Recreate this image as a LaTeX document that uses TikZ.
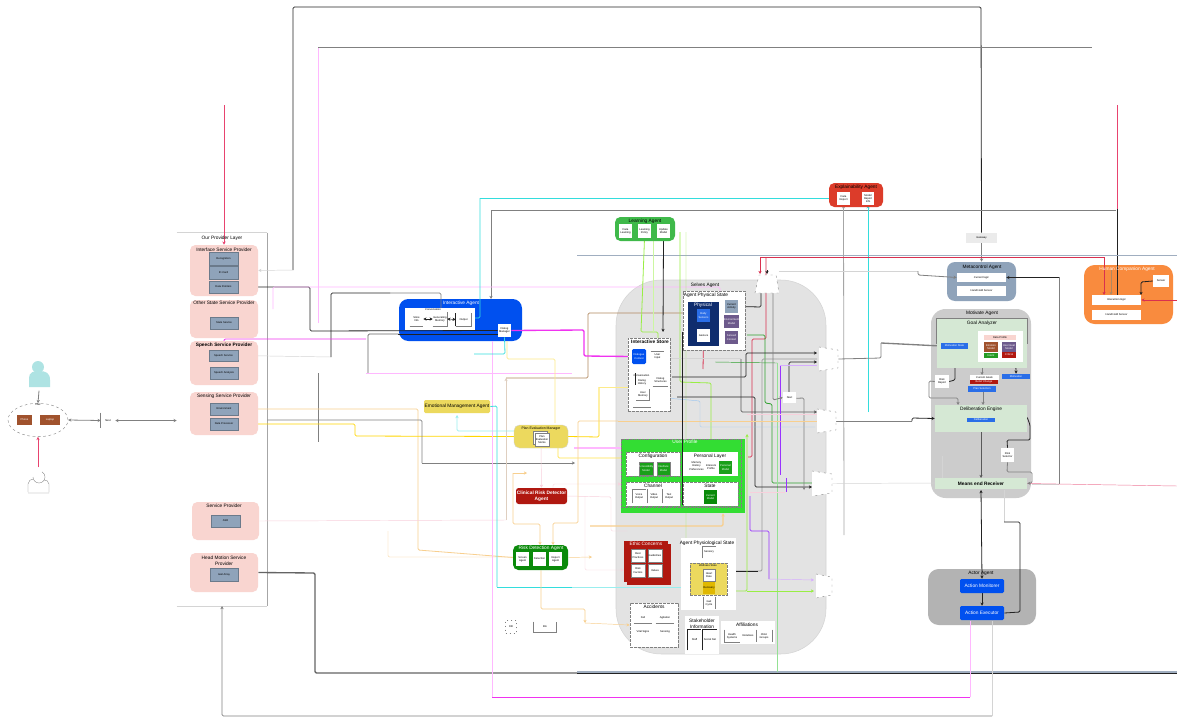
\documentclass[tikz,border=0pt]{standalone}
\usepackage{fontspec}
\setmainfont{Liberation Sans}
\usetikzlibrary{arrows.meta,shapes.geometric}
\pgfdeclarelayer{back}\pgfdeclarelayer{conn}\pgfdeclarelayer{over}
\pgfsetlayers{back,conn,main,over}
\newcommand{\fa}{\fontsize{2}{2.4}\selectfont}
\newcommand{\fb}{\fontsize{3.6}{4.2}\selectfont}
\newcommand{\fc}{\fontsize{4.6}{5.4}\selectfont}
\newcommand{\bx}[7][]{\node[inner sep=0pt,align=center,font=\fa,minimum width={(#5-#3)*0.75pt},minimum height={(#6-#4)*0.75pt},#1] (#2) at ({(#3+#5)/2},{(#4+#6)/2}) {#7};}
\newcommand{\ttl}[5][]{\node[inner sep=0pt,align=center,font=\fb,#1] (#2) at (#3,#4) {#5};}
\newcommand{\gatew}[5]{\fill[white] (#2,#3) -- (#4,{#3+3}) -- (#4,{#5-3}) -- (#2,#5) -- cycle;
  \draw[gatel] (#2,#3) -- (#4,{#3+3}) -- (#4,{#5-3}) -- (#2,#5);
  \node[inner sep=0pt,minimum width={(#4-#2)*0.75pt},minimum height={(#5-#3)*0.75pt}] (#1) at ({(#2+#4)/2},{(#3+#5)/2}) {};}
\definecolor{pinkbox}{HTML}{F9D5D0}\definecolor{slate}{HTML}{8FA3BA}\definecolor{brownb}{HTML}{A0522D}
\definecolor{iablue}{HTML}{0050EF}\definecolor{yelag}{HTML}{ECD95E}\definecolor{redag}{HTML}{B01810}
\definecolor{grnag}{HTML}{0A8A0A}\definecolor{lrngrn}{HTML}{3FB94A}\definecolor{expred}{HTML}{DC3C2A}
\definecolor{selves}{HTML}{E3E3E3}\definecolor{navy}{HTML}{0F2D6E}\definecolor{midblue}{HTML}{2A6EE8}
\definecolor{purb}{HTML}{6D5A8C}\definecolor{upgrn}{HTML}{33DD33}\definecolor{dgrn}{HTML}{1AA01A}
\definecolor{orag}{HTML}{F98B3E}\definecolor{motg}{HTML}{CCCCCC}\definecolor{actg}{HTML}{B3B3B3}
\definecolor{lgrnp}{HTML}{D5E8D4}\definecolor{teal1}{HTML}{AEE3E3}\definecolor{dkyel}{HTML}{E0B800}
\definecolor{cblk}{HTML}{222222}\definecolor{cgry}{HTML}{808080}\definecolor{cpg}{HTML}{D4D4D4}
\definecolor{cpp}{HTML}{F8D0DC}\definecolor{cmag}{HTML}{F033F0}\definecolor{cpm}{HTML}{FFB8FF}
\definecolor{ccy}{HTML}{33DDDD}\definecolor{cgold}{HTML}{FFD700}\definecolor{cpy}{HTML}{FDEB8A}
\definecolor{cpch}{HTML}{F8CF8E}\definecolor{ccr}{HTML}{D9304F}\definecolor{cgr}{HTML}{2EA02E}
\definecolor{clg}{HTML}{99EE44}\definecolor{cpur}{HTML}{9933FF}\definecolor{cpb}{HTML}{A0C8F0}
\definecolor{cbrn}{HTML}{B08860}\definecolor{csl}{HTML}{A0AEC0}\definecolor{crp}{HTML}{E8436F}
\tikzset{
 ln/.style={rounded corners=1pt,line width=.6pt},
 th/.style={rounded corners=1pt,line width=1pt},
 tn/.style={rounded corners=1pt,line width=.35pt},
 tip/.style={-{Stealth[length=2.4pt,width=2.4pt]}},
 tipb/.style={{Stealth[length=2.4pt,width=2.4pt]}-{Stealth[length=2.4pt,width=2.4pt]}},
 gatel/.style={cgry,line width=.3pt,dash pattern=on 1.5pt off 3pt},
 rb/.style={rounded corners=4pt,fill=#1},
 wb/.style={fill=white,text=black},
 sv/.style={fill=slate,draw=slate!75!black,line width=.3pt},
 dsh/.style={draw=cgry,line width=.5pt,dash pattern=on 2pt off 1pt},
 wt/.style={text=white},
}
\begin{document}
\begin{tikzpicture}[x=0.75pt,y=-0.75pt]
\useasboundingbox (0,0) rectangle (1177,717);
\begin{pgfonlayer}{back}
\fill[white] (0,0) rectangle (1177,717);
\bx[rb=selves,rounded corners=34pt,draw=cpg,line width=.4pt]{selv}{616}{280}{826}{654}{}
\bx[rb=motg,rounded corners=11pt]{mot}{931}{309}{1031}{498}{}
\bx[rb=iablue,rounded corners=7pt]{ia}{399}{299}{522}{341}{}
\bx[rb=slate,rounded corners=6pt]{meta}{947}{262}{1016}{301}{}
\bx[rb=orag,rounded corners=8pt]{hca}{1084}{265}{1173}{324}{}
\bx[rb=actg,rounded corners=8pt]{act}{928}{569}{1036}{625}{}
\end{pgfonlayer}
% ---- left users
\fill[teal1] (29,387) -- (29,378) .. controls (29,372) and (34,371) .. (39,371) .. controls (46,371) and (50,373) .. (50,380) -- (50,387) -- cycle;
\fill[teal1] (38,367) circle (6);
\node[inner sep=0pt,minimum width=16pt,minimum height=20pt] (user) at (39,377) {};
\draw[cgry,line width=.25pt] (33,477) arc (180:-60:6) (28,492) -- (28,484) .. controls (28,481) and (31,479) .. (33,479) (49,492) -- (49,484) .. controls (49,481) and (46,480) .. (44,480) (28,493) -- (49,493);
\node[inner sep=0pt,minimum width=16pt,minimum height=20pt] (wuser) at (38,481) {};
\node[draw=cgry,ellipse,dash pattern=on 2pt off 2pt,line width=.3pt,minimum width=45pt,minimum height=25pt,inner sep=0pt] (dev) at (38,420) {};
\bx[fill=brownb,wt]{dev1}{17}{415}{32}{425}{Phone}
\bx[fill=brownb,wt]{dev2}{40}{415}{60}{425}{Laptop}
\ttl[font=\fa]{devt}{38}{405}{Has}
\bx{nx}{101}{413}{115}{428}{Next}
\draw[cgry,line width=.5pt] (nx.north west) -- (nx.south west);
% ---- provider layer
\bx{layer}{177}{233}{267}{606}{}
\ttl{layt}{222}{238}{Our Provider Layer}
\bx[rb=pinkbox]{isp}{190}{245}{258}{296}{}
\ttl{ispt}{224}{250}{Interface Service Provider}
\bx[sv]{s1}{209}{252}{238}{265}{Recognition}
\bx[sv]{s2}{209}{266}{238}{279}{ID Card}
\bx[sv]{s3}{209}{281}{238}{293}{Data Pointers}
\bx[rb=pinkbox]{osp}{190}{300}{258}{338}{}
\ttl{ospt}{224}{303}{Other State Service Provider}
\bx[sv]{s4}{210}{317}{238}{329}{State Service}
\bx[rb=pinkbox]{ssp}{190}{341}{258}{385}{}
\ttl[font=\fb\bfseries]{sspt}{224}{345}{Speech Service Provider}
\bx[sv]{s5}{209}{350}{238}{361}{Speech Service}
\bx[sv]{s6}{210}{367}{238}{379}{Speech Analysis}
\bx[rb=pinkbox]{bsp}{190}{392}{258}{435}{}
\ttl{bspt}{224}{396}{Sensing Service Provider}
\bx[sv]{s7}{210}{403}{238}{415}{Environment}
\bx[sv]{s8}{210}{418}{238}{430}{Data Processor}
\bx[rb=pinkbox]{svp}{192}{502}{259}{540}{}
\ttl{svpt}{224}{506}{Service Provider}
\bx[sv]{s9}{211}{515}{240}{527}{ASR}
\bx[rb=pinkbox]{hsp}{190}{553}{258}{592}{}
\ttl{hspt}{224}{561}{Head Motion Service\\Provider}
\bx[sv]{s10}{210}{568}{238}{581}{Gait Array}
% ---- interactive agent
\ttl[wt,font=\fb]{iat}{461}{303}{Interactive Agent}
\bx[fill=white]{iap}{405}{308}{475}{330}{}
\ttl[font=\fa]{iapt}{433}{310}{Conversation}
\bx{ia1}{410}{312}{423}{326}{Store\\Info}
\bx{ia2}{433}{312}{447}{326}{Generating\\Memory}
\bx{ia3}{456}{313}{471}{326}{Output}
\bx[fill=white]{dlg}{498}{324}{511}{337}{Dialog\\Manager}
\draw[cgry,line width=.4pt] (ia1.south west) -- (ia1.south east) (ia2.south west) -- (ia2.south east) -- (ia2.north east);
\draw[cblk,line width=.5pt] (ia3.south west) -- (ia3.north west);
\draw[cgry,line width=.3pt] (ia3.south west) -- (ia3.south east) -- (ia3.north east);
% ---- yellow etc
\bx[rb=yelag,rounded corners=1pt,font=\fb]{ema}{424}{400}{490}{413}{Emotional Management Agent}
\bx[rb=yelag,draw=cpg,line width=.3pt]{pem}{514}{425}{568}{448}{}
\ttl[font=\fa\fontsize{2.6}{3}\selectfont]{pemt}{541}{429}{Plan Evaluation Manager}
\bx[fill=white,draw=cgry,line width=.3pt]{pems}{533}{431}{547}{444}{}
\bx[fill=white,draw=cgry,line width=.3pt]{pemb}{535}{433}{549}{446}{Plan\\Evaluation\\Memo}
\bx[rb=redag,rounded corners=2pt,wt,font=\fb\bfseries]{crd}{516}{488}{567}{504}{Clinical Risk Detector\\Agent}
\bx[rb=grnag]{rda}{513}{545}{568}{570}{}
\ttl[wt]{rdat}{541}{548}{Risk Detection Agent}
\bx[wb]{rd1}{516}{552}{529}{566}{Screen\\Agent}
\bx[wb]{rd2}{533}{552}{546}{566}{Detection}
\bx[wb]{rd3}{549}{552}{562}{566}{Report\\Agent}
\bx[rb=lrngrn]{lrn}{615}{217}{675}{241}{}
\ttl{lrnt}{645}{221}{Learning Agent}
\bx[wb]{l1}{619}{224}{632}{238}{Data\\Learning}
\bx[wb]{l2}{638}{224}{651}{238}{Learning\\Policy}
\bx[wb]{l3}{657}{224}{670}{238}{Update\\Model}
\bx[rb=expred]{exp}{829}{183}{883}{207}{}
\ttl{expt}{856}{187}{Explainability Agent}
\bx[wb]{e1}{837}{192}{850}{205}{Data\\Report}
\bx[wb]{e2}{862}{192}{874}{205}{Model\\Report\\Info}
% ---- selves
\ttl{selvt}{705}{285}{Selves Agent}
\bx[fill=white,dsh]{aps}{683}{291}{745}{350}{}
\ttl[font=\fb]{apst}{706}{295}{Agent Physical State}
\bx[fill=navy]{navyp}{688}{302}{719}{346}{}
\ttl[wt]{navyt}{703}{305}{Physical}
\bx[fill=midblue,wt]{np1}{697}{309}{710}{322}{Body\\Sensors}
\bx[fill=white]{np2}{697}{329}{710}{342}{Gesture}
\bx[fill=slate]{ap1}{725}{300}{738}{313}{Current\\Activity}
\bx[fill=purb,wt]{ap2}{725}{315}{738}{328}{Environment\\Model}
\bx[fill=purb,wt]{ap3}{725}{331}{738}{344}{Sensed\\Context}
\bx[fill=white,dsh]{ist}{628}{338}{670}{411}{}
\ttl[font=\fb\bfseries]{istt}{650}{342}{Interactive Store}
\bx[rb=iablue,rounded corners=1pt,wt]{is1}{632}{349}{646}{364}{Dialogue\\Context}
\bx{is2}{651}{351}{664}{362}{User\\Input}
\bx{is3}{633}{372}{650}{379}{Conversation}
\bx{is4}{634}{378}{650}{386}{Dialog\\History}
\bx{is5}{653}{374}{668}{386}{Dialog\\Structures}
\bx{is6}{636}{388}{650}{400}{User\\Memory}
\draw[cgry,line width=.3pt] (is2.north west) -- (is2.north east) (is5.south west) -- (is5.south east) (636,400) -- (649,400) -- (649,389);
\draw[cblk,line width=.5pt] (635,373) -- (635,385);
\draw[cgry,line width=.3pt] (633,407) -- (651,407);
\bx[fill=upgrn,draw=none]{upf}{621}{439}{745}{513}{}
\draw[dsh] (621,439) rectangle (741,507);
\ttl[wt,font=\fb]{upt}{685}{442}{User Profile}
\bx[fill=white,dsh]{cfg}{626}{452}{680}{476}{}
\ttl{cfgt}{653}{456}{Configuration}
\bx[fill=dgrn,wt,draw=cgry,line width=.2pt]{c1}{639}{462}{653}{475}{Accessibility\\Model}
\bx[fill=dgrn,wt,draw=cgry,line width=.2pt]{c2}{657}{462}{670}{475}{Interface\\Model}
\bx[fill=white]{pla}{683}{452}{738}{476}{}
\ttl{plat}{710}{456}{Personal Layer}
\bx{pl1}{690}{460}{703}{472}{Memory\\History\\Preferences}
\bx{pl2}{704}{462}{718}{472}{Interests\\Profile}
\bx[fill=dgrn,wt]{pl3}{719}{461}{732}{474}{Personal\\Model}
\bx[fill=white,dsh]{chn}{626}{482}{680}{506}{}
\ttl{chnt}{653}{486}{Channel}
\bx{ch1}{632}{489}{646}{503}{Voice\\Output}
\bx{ch2}{647}{489}{661}{503}{Video\\Output}
\bx{ch3}{662}{489}{676}{503}{Text\\Output}
\draw[cgry,line width=.3pt] (ch1.south west) -- (ch1.north west) (ch2.south west) -- (ch2.north west) (ch3.south west) -- (ch3.north west) (ch1.north west) -- (ch1.north east);
\bx[fill=white,dsh]{sta}{683}{482}{738}{506}{}
\ttl{stat}{710}{486}{State}
\bx[fill=grnag,wt]{st1}{704}{490}{717}{504}{Current\\Model}
\bx[fill=redag]{ecb2}{627}{544}{671}{585}{}
\bx[fill=redag]{ecb}{624}{541}{668}{582}{}
\ttl[wt,font=\fb]{ect}{646}{544}{Ethic Concerns}
\bx[fill=white,draw=cgry,line width=.2pt]{ec1}{631}{549}{645}{562}{Best\\Practices}
\bx[fill=white,draw=cgry,line width=.2pt]{ec2}{648}{549}{662}{562}{Guidelines}
\bx[fill=white,draw=cgry,line width=.2pt]{ec3}{631}{564}{645}{577}{Risk\\Factors}
\bx[fill=white,draw=cgry,line width=.2pt]{ec4}{648}{564}{662}{577}{Values}
\bx[fill=white]{aph}{681}{538}{736}{610}{}
\ttl[font=\fb]{apht}{707}{543}{Agent Physiological State}
\bx{ap5}{702}{546}{716}{558}{Sensory}
\draw[cgry,line width=.3pt] (ap5.south west) -- (ap5.north west) -- (ap5.north east);
\bx[rb=yelag,rounded corners=0pt,dsh]{ypn}{690}{563}{727}{595}{}
\ttl[font=\fa]{ypnt}{708}{566}{Wellness State}
\bx[fill=white,draw=cgry,line width=.2pt]{yp1}{703}{569}{715}{581}{Heart\\Rate}
\bx[fill=dkyel]{yp2}{703}{582}{715}{594}{Recovery}
\bx{yp3}{703}{597}{715}{609}{Gait\\Cycle}
\draw[cgry,line width=.3pt] (yp3.north west) -- (yp3.south west) (yp3.north east) -- (yp3.south east);
\bx[fill=white,dsh]{acc}{630}{603}{678}{647}{}
\ttl{acct}{654}{607}{Accidents}
\bx{ac1}{634}{612}{652}{623}{Fall}
\bx{ac2}{656}{612}{674}{623}{Agitation}
\bx{ac3}{634}{626}{652}{637}{Vital Signs}
\bx{ac4}{656}{626}{674}{637}{Sensing}
\draw[cgry,line width=.4pt] (ac1.south west) -- (ac1.south east) (ac2.south west) -- (ac2.south east);
\bx[fill=white]{shi}{685}{616}{719}{654}{}
\ttl[font=\fb]{shit}{702}{624}{Stakeholder\\Information}
\bx{sh1}{688}{630}{701}{650}{Staff}
\bx{sh2}{703}{630}{717}{650}{Social Net}
\draw[cblk,line width=.4pt] (sh1.south west) -- (sh1.north west) -- (sh1.north east) (sh2.south west) -- (sh2.north west) -- (sh2.north east);
\bx[fill=white]{aff}{721}{621}{775}{644}{}
\ttl{afft}{747}{625}{Affiliations}
\bx{af1}{724}{630}{740}{642}{Health\\Systems}
\bx{af2}{741}{630}{755}{642}{Relatives}
\bx{af3}{756}{630}{772}{642}{Clinic\\Groups}
\draw[cgry,line width=.3pt] (af1.north west) -- (af1.south west) -- (af1.south east) (af3.north west) -- (af3.south west) (af3.north east) -- (af3.south east);
% gates
\node[inner sep=0pt,minimum width=17pt,minimum height=14pt] (gtop) at (767,284) {};
\fill[white] (759,275) -- (776,275) -- (779,293) -- (755,293) -- cycle;
\draw[gatel] (755,293) -- (759,275) -- (776,275) -- (779,293) -- cycle;
\gatew{g1}{819}{347}{838}{371}
\gatew{g2}{817}{409}{836}{433}
\gatew{g3}{812}{471}{832}{496}
\gatew{g4}{816}{574}{832}{598}
\bx[fill=white]{nb}{783}{392}{796}{403}{Next}
% ---- bottom small
\node[draw=cgry,dash pattern=on 1pt off 2pt,line width=.3pt,minimum width=8pt,minimum height=10pt,inner sep=0pt,font=\fa] (db) at (511,627) {DB};
\bx{bin}{534}{622}{556}{632}{Bin}
\draw[cgry,line width=.4pt] (bin.north west) -- (bin.south west) -- (bin.south east) -- (bin.north east);
% ---- right agents
\bx[fill=white!92!black]{gw}{966}{233}{997}{243}{Gateway}
\ttl[font=\fb]{metat}{982}{267}{Metacontrol Agent}
\bx[fill=white]{m1}{957}{273}{1006}{282}{Current logic}
\bx[fill=white]{m2}{957}{286}{1006}{296}{Hand Held Sensor}
\ttl[wt,font=\fb]{hcat}{1127}{269}{Human Companion Agent}
\bx[fill=white]{h1}{1092}{295}{1141}{305}{Interaction logic}
\bx[fill=white]{h2}{1092}{310}{1141}{320}{Hand Held Sensor}
\bx[fill=white]{h3}{1153}{275}{1169}{287}{Sensor}
\ttl{mott}{982}{313}{Motivate Agent}
\bx[fill=lgrnp]{ga}{937}{319}{1027}{368}{}
\draw[cgry,line width=.5pt] (ga.west) |- (ga.north) -| (ga.east);
\ttl[font=\fb]{gat}{982}{323}{Goal Analyzer}
\bx[fill=white]{gw2}{978}{331}{1023}{362}{}
\bx[fill=pinkbox]{g21}{984}{335}{1016}{340}{Data Profile}
\bx[fill=brownb,wt]{g22}{984}{342}{998}{352}{Emotion\\Model}
\bx[fill=upgrn!70!black,wt]{g23}{984}{353}{998}{358}{Intent}
\bx[fill=purb,wt]{g24}{1002}{342}{1016}{352}{User Goal\\Model}
\bx[fill=redag,wt]{g25}{1002}{352}{1016}{358}{Critical}
\bx[fill=midblue,wt]{ms}{941}{343}{968}{349}{Motivation State}
\bx[fill=white]{ms2}{935}{375}{949}{388}{Risk\\Report}
\bx[fill=white]{st2}{970}{375}{999}{380}{Current Goals}
\bx[fill=redag,wt]{st3}{970}{380}{998}{384}{Belief Change}
\bx[fill=midblue,wt]{st4}{968}{386}{996}{392}{Plan Selection}
\bx[fill=midblue,wt]{st5}{1002}{374}{1030}{379}{Motivation}
\bx[fill=lgrnp]{de}{935}{405}{1027}{432}{}
\ttl[font=\fb]{det}{981}{409}{Deliberation Engine}
\bx[fill=midblue,wt]{de1}{967}{418}{995}{422}{Deliberation}
\bx[fill=white]{sm}{1001}{448}{1014}{462}{Risk\\Selector}
\bx[fill=lgrnp,font=\fb\bfseries]{mer}{935}{478}{1027}{489}{Means end Receiver}
\ttl[font=\fb]{actt}{981}{573}{Actor Agent}
\bx[rb=iablue,rounded corners=1pt,wt,font=\fb]{am}{960}{579}{1004}{593}{Action Monitorer}
\bx[rb=iablue,rounded corners=1pt,wt,font=\fb]{ae}{960}{606}{1004}{620}{Action Executor}
% ---- free ends
\coordinate (ftl) at (224,105);\coordinate (ftr) at (1117,105);\coordinate (fr1) at (1177,300);\coordinate (fr2) at (1177,486);
\coordinate (fr3) at (1177,672);\coordinate (fr4) at (1177,673);\coordinate (fr6) at (1177,255);
\coordinate (fl1) at (577,255);\coordinate (fl2) at (577,672);
\begin{pgfonlayer}{conn}
% layer frame
\draw[cpg,line width=.5pt] (layer.north west) -- (layer.north east);
\draw[cpg,line width=.5pt] (layer.south west) -- (layer.south east);
\draw[cgry!70,line width=.7pt] (layer.north east) -- (layer.south east);
% left
\draw[ln,tip,cgry] (user.south) -- (dev.north);
\draw[ln,tip,crp] (wuser.north) -- (dev.south);
\draw[ln,tipb,cgry] (dev.east) -- (nx.west);
\draw[ln,tipb,cgry] (nx.east) -- (layer.west |- nx.east);
\draw[ln,tip,crp] (ftl) -- (isp.north);
\draw[ln,crp] (ftr) -- (1117,209);
\draw[ln,cblk] (1117,209) -- (1117,295);
% top long lines
\draw[ln,cblk] (293,270) -- (293,7) -- (981,7) -- (gw.north);
\draw[tn,tip,cpg] (293,270) -- (isp.east);
\draw[ln,tip,cgry] (gw.south) -- (meta.north);
\draw[ln,cpm] (318,323) -- (318,47);
\draw[tn,cgry] (318,47) -- (1092,47);
\draw[tn,cgry] (318.5,373) -- (318.5,442);
\draw[ln,cgry] (491,210) -- (1116,210);
\draw[ln,cgry,tip] (491,210) -- (491,299);
\draw[ln,csl] (fl1) -- (fr6);
\draw[th,csl] (fl2) -- (fr3);
% service provider links
\draw[ln,cblk] (s3.east) -- (310,287) -- (310,331) -- (dlg.west);
\draw[tn,cblk] (398,334) -- (498,334);
\draw[tn,cpg] (s5.east) -- (331,357);
\draw[ln,cblk] (331,357) -- (331,293) -- (390,293);
\draw[ln,cgry,tip] (390,293) -- (441,293) -- (441,312);
\draw[ln,cblk!70] (ia.west |- 0,334) -- (368,334) -- (368,373);
\draw[ln,cmag,tip] (366,339) -- (224,339) -- (s5.north);
\draw[ln,cpm] (224,310) -- (s4.north);
\draw[ln,cpm] (273,309) -- (273,287) -- (720,287) -- (720,338);
\draw[tn,tip,cpm] (720,338) -- (ap3.west);
\draw[tn,cpm] (366,373) -- (572,373);
\draw[tn,cgry,tip] (s6.west) ++(0,-5) -- (206,358) -- (206,373) -- (s6.west);
\draw[tn,cgry,tip] (s7.west) -- (207,409) -- (207,424) -- (s8.west);
\draw[ln,cpch] (s7.east) -- (418,409) -- (418,550) -- (rda.west);
\draw[ln,cgold] (s8.east) -- (355,424) -- (355,436) -- (pem.west);
\draw[ln,cgry] (layer.east |- 0,420) -- (422,420) -- (422,463);
\draw[ln,tip,cgry] (422,463) -- (575,463);
\draw[tn,cpp] (svp.east) -- (506,520);
\draw[tn,tip,cbrn!40] (506,520) -- (506,378);
\draw[ln,cbrn] (506,378) -- (588,378) -- (588,313) -- (688,313);
\draw[th,cblk!70] (hsp.east) -- (315,573) -- (315,673) -- (577,673);
\draw[tn,cblk] (577,673) -- (fr4);
\draw[ln,tip,cgry] (992,716) -- (222,716) -- (222,606);
\draw[tn,cpg] (992,621) -- (992,716);
\draw[ln,cmag] (970,697) -- (492,697);
\draw[tn,cpm] (970,697) -- (970,621);
\draw[ln,cpm] (492,697) -- (492,341);
% interactive
\draw[th,cmag,tip] (dlg.east) -- (584,330) -- (584,356) -- (is1.west);
\draw[ln,ccy] (480,198) -- (480,318) -- (475,318);
\draw[ln,ccy] (480,198) -- (868,198);
\draw[ln,ccy,tip] (868,412) -- (e2.south);
\draw[ln,cgry!70,tip] (844,535) -- (e1.south);
\draw[ln,ccy] (dlg.south) -- (505,354) -- (474,354);
\draw[ln,cpy] (507,341) -- (507,359) -- (555,359) -- (555,423);
% ema
\draw[ln,ccy] (ema.east) -- (497,406) -- (497,587);
\draw[tn,ccy] (497,587) -- (572,587);
\draw[tn,tip,ccy!50] (572,587) -- (692,587);
\draw[ln,ccy!50,tip] (514,431) -- (457,431) -- (457,415);
% pem, crd, rda
\draw[ln,cgold] (pem.east) -- (599,437) -- (599,387);
\draw[tn,cpy,tip] (599,387) -- (649,387);
\draw[ln,cgold!70,tip] (647,458) -- (558,458) -- (558,437) -- (549,437);
\draw[tn,tip,cpp] (pem.south) -- (crd.north);
\draw[tn,cpp] (crd.east) -- (611,497) -- (611,531) -- (627,531);
\draw[tn,tip,cpp] (crd.east -| 585,0) -- (585,570) -- (ecb.west |- 0,570);
\draw[tn,cpp,tip] (553,488) -- (553,484) -- (621,484);
\draw[th,cpm] (574,448) -- (621,448);
\draw[ln,cpch,tip] (513,473) -- (513,524) -- (540,524) -- (540,545);
\draw[tn,cpch,tip] (513,473) -- (527,473);
\draw[ln,cpch,tip] (618,421) -- (578,421) -- (578,523) -- (553,523) -- (553,545);
\draw[th,cpch,tip] (590,526) -- (723,526) -- (upf.south -| 723,0);
\draw[ln,cpch,tip] (rda.south -| 541,0) -- (541,609) -- (585,609) -- (585,623);
\draw[tn,cpch,tip] (585,623) -- (acc.west);
\draw[tn,cpch] (388,531) -- (388,557) -- (513,557);
\draw[tn,cpch,tip] (rda.east) -- (592,557);
% learning
\draw[ln,clg] (l2.south) -- (641,332) -- (658,332) -- (658,350);
\draw[ln,cblk,tip] (l3.south) -- (663,332);
\draw[ln,clg] (680,232) -- (680,382) -- (711,383) -- (711,452);
\draw[tn,clg] (686,232) -- (686,595) -- (703,600);
\draw[tn,clg!50] (653,241) -- (653,332);
% selves internal
\draw[ln,ccr,tip] (703,369) -- (np2.south);
\draw[ln,ccr] (766,257) -- (766,339) -- (752,339) -- (752,457) -- (748,457);
\draw[ln,ccr,tip] (760,257) -- (760,274);
\draw[ln,ccr] (760,257) -- (1104,257);
\draw[ln,ccr,tip] (1104,257) -- (1104,295);
\draw[ln,ccr,tip] (fr1) -- (h1.east);
\draw[ln,cgr] (747,335) -- (765,335) -- (765,403) -- (772,404) -- (772,483) -- (812,483);
\draw[tn,cgr] (715,362) -- (776,363) -- (777,363);
\draw[tn,cpg!70!green] (777,363) -- (777,672);
\draw[ln,cblk,tip] (672,377) -- (741,377) -- (746,377) -- (746,353) -- (817,353);
\draw[ln,cblk!75,tip] (741,359) -- (741,412) -- (817,412);
\draw[ln,cpg] (665,358) -- (741,358);
\draw[ln,cgry!80] (736,571) -- (762,571) -- (762,359) -- (817,359);
\draw[ln,cblk] (736,571) -- (758,571);
\draw[ln,tip,cblk] (677,397) -- (755,397) -- (755,487) -- (812,487);
\draw[ln,cgry,tip] (nb.south east) ++(0,-5) -- (804,398) -- (804,490);
\draw[ln,cblk,tip] (789,392) -- (789,362) -- (817,362);
\draw[ln,cpur] (780,365) -- (780,475);
\draw[tn,cpur!40] (780,365) -- (817,365);
\draw[ln,cpur] (786,478) -- (786,492);
\draw[tn,cpp] (750,492) -- (785,492);
\draw[ln,cpur] (750,496) -- (750,531) -- (769,531) -- (769,579);
\draw[tn,cpur!40,tip] (769,579) -- (814,580);
\draw[ln,clg,tip] (727,591) -- (747,591) -- (747,434);
\draw[tn,clg,tip] (747,591) -- (814,591);
\draw[ln,cgr] (747,421) -- (817,421);
\draw[ln,cpch] (618,421) -- (817,421);
\draw[tn,cpb] (655,397) -- (700,401) -- (700,427) -- (815,427);
\draw[ln,cpp] (747,414) -- (817,414);
\draw[tn,cpg] (g3.east) -- (935,483);
\draw[ln,cblk,tip] (761,293) -- (761,307) -- (ap1.east);
\draw[ln,cgry,tip] (773,293) -- (773,400) -- (nb.west);
\draw[tn,cpg] (gtop.east |- 0,271) -- (918,271);
\draw[ln,cgry,tip] (918,271) -- (918,275) -- (m1.west);
\draw[ln,cblk,tip] (767,270) -- (767,274);
% right side
\draw[ln,cgry] (g1.east) -- (881,358) -- (881,343);
\draw[th,cgry,tip] (881,343) -- (ms.west);
\draw[ln,cgry] (g2.east) -- (912,421);
\draw[ln,cblk,tip] (912,421) -- (912,418) -- (de.west);
\draw[ln,cblk,tip] (m1.east) ++(30,0) -- (m1.east);
\draw[ln,cblk] (1036,277) -- (1059,277);
\draw[ln,cgry] (1059,277) -- (1059,484);
\draw[tn,cpg] (1059,484) -- (1032,484);
\draw[tn,crp!70] (mer.east) -- (fr2);
\draw[ln,cbrn,tip] (1111,270) -- (1111,295);
\draw[ln,cblk,tip] (h3.west) -- (1141,282) -- (1141,295);
\draw[ln,cblk,tip] (g24.west |- 0,350) -- (1000,350) -- (1000,367) -- (1016,367) -- (st5.north -| 1016,0);
\draw[ln,cblk,tip] (gw2.west |- ms.east) -- (ms.east);
\draw[ln,cblk] (955,349) -- (955,380) -- (ms2.east);
\draw[ln,cgry,tip] (ms2.west) -- (929,381) -- (929,398) -- (958,398) -- (958,405);
\draw[ln,cgry,tip] (983,392) -- (983,405);
\draw[ln,cgry,tip] (982,368) -- (982,375);
\draw[ln,cblk!75,tip] (de.south) -- (981,478);
\draw[ln,cblk] (de.east) ++(0,-1) -- (1030,425) -- (1030,440) -- (1007,440) -- (sm.north);
\draw[ln,cgry,tip] (sm.south) -- (1007,472) -- (1032,472) -- (1032,483) -- (mer.east);
\draw[ln,cpg] (942,456) -- (942,478);
\draw[ln,cblk,tipb] (981,490) -- (am.north);
\draw[ln,cblk,tip] (am.south) -- (ae.north);
\draw[ln,cpg] (1004,490) -- (1004,522);
\draw[ln,cblk] (1004,522) -- (1020,522) -- (1020,612) -- (ae.east);
\end{pgfonlayer}
\begin{pgfonlayer}{over}
\draw[ln,cblk] (682,332) -- (682,505);
\draw[tn,cblk,tipb] (ia1.east) -- (ia2.west);
\draw[tn,cblk,tipb] (ia2.east) -- (ia3.west);
\end{pgfonlayer}
\end{tikzpicture}
\end{document}
